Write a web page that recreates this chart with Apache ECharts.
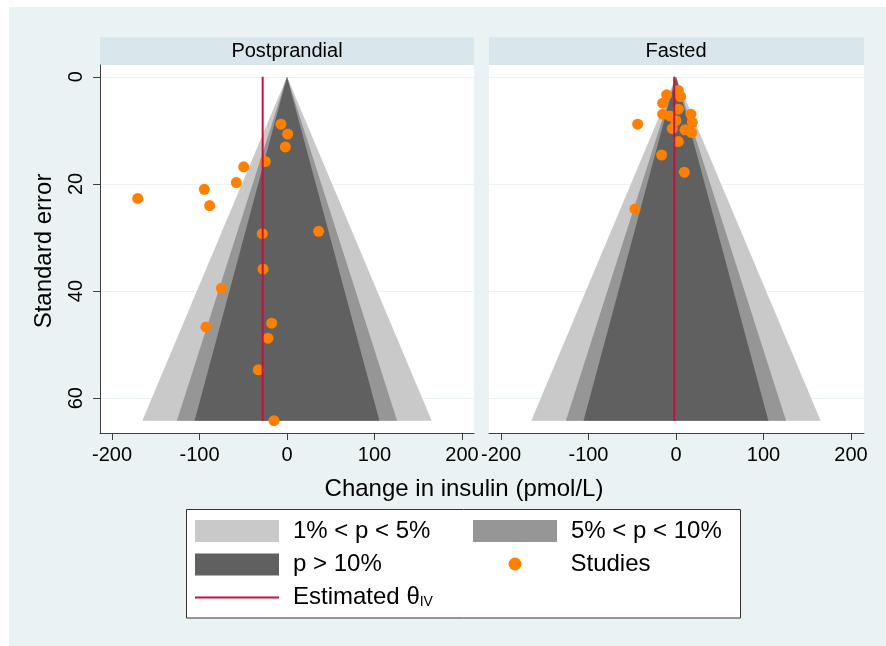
<!DOCTYPE html>
<html><head><meta charset="utf-8">
<script src="https://cdn.jsdelivr.net/npm/echarts@6/dist/echarts.min.js"></script>
<style>html,body{margin:0;padding:0;background:#fff}#c{width:886px;height:646px}</style>
</head><body><div id="c"></div>
<script>
// ---- data ----
const panels = ['Postprandial', 'Fasted'];
const postX  = [-6.9, 0.8, -1.9, -24.8, -49.5, -57.9, -94.5, -170.6, -88.4, -28.2, 36.2, -27.4, -75.0, -92.6, -17.5, -21.7, -32.8, -14.9];
const postSE = [8.85, 10.7, 13.1, 15.8, 16.8, 19.75, 21.0, 22.7, 24.05, 29.3, 28.85, 35.9, 39.5, 46.7, 46.0, 48.8, 54.7, 64.2];
const fastX  = [2.7, -10.7, 5.3, -15.2, 2.7, 17.1, -15.2, -6.9, 0.0, 18.7, -43.8, -4.2, 10.3, 17.9, 2.7, -16.4, 9.5, -46.9];
const fastSE = [2.55, 3.36, 3.68, 4.92, 6.04, 6.98, 6.98, 7.3, 8.2, 8.5, 8.85, 9.66, 9.9, 10.4, 12.1, 14.6, 17.8, 24.7];
const thetaIV = [-27.8, -2.0];
const contourZ = [2.576, 1.96, 1.645];
const contourNames = ['1% < p < 5%', '5% < p < 10%', 'p > 10%'];
const studiesName = 'Studies';
const thetaName = 'Estimated θIV';
const xTicks = [-200, -100, 0, 100, 200];
const yTicks = [0, 20, 40, 60];

// ---- style ----
const FONT = '"Liberation Sans", Arial, sans-serif';
const contourColors = ['#C9C9C9', '#969696', '#606060'];
const dotColor = '#FF8000';
const lineColor = '#C8103E';
const axisColor = '#3f3f3f';
const bgColor = '#EAF2F3';
const stripColor = '#D9E6EB';

const seMax = Math.max(...postSE, ...fastSE);
const xs = [postX, fastX], ses = [postSE, fastSE];
const grids = [
  {left: 100, top: 65, width: 374, height: 368},
  {left: 489, top: 65, width: 375, height: 368}
];
const xRanges = [[-213.7, 213.7], [-213.7, 214.9]];

const option = {
  backgroundColor: bgColor,
  animation: false,
  grid: grids.map(g => Object.assign({show: true, backgroundColor: '#fff', borderWidth: 0}, g)),
  xAxis: grids.map((g, i) => ({
    gridIndex: i, type: 'value', min: xRanges[i][0], max: xRanges[i][1],
    axisLine: {show: true, onZero: false, lineStyle: {color: axisColor, width: 1}},
    axisTick: {show: true, length: 7, customValues: xTicks, lineStyle: {color: axisColor}},
    axisLabel: {customValues: xTicks, fontSize: 20, fontFamily: FONT, color: '#000', margin: 12},
    splitLine: {show: false}
  })),
  yAxis: grids.map((g, i) => ({
    gridIndex: i, type: 'value', inverse: true, min: -2.2, max: 66.5,
    axisLine: {show: i === 0, onZero: false, lineStyle: {color: axisColor, width: 1}},
    axisTick: {show: i === 0, length: 7, customValues: yTicks, lineStyle: {color: axisColor}},
    axisLabel: {show: i === 0, customValues: yTicks, rotate: 90, fontSize: 20, fontFamily: FONT, color: '#000', margin: 14},
    splitLine: {show: true, lineStyle: {color: bgColor, width: 1}}
  })),
  legend: [
    {name: contourNames[0], left: 195, top: 519, icon: 'rect', itemWidth: 84, itemHeight: 22},
    {name: contourNames[1], left: 473, top: 519, icon: 'rect', itemWidth: 84, itemHeight: 22},
    {name: contourNames[2], left: 195, top: 552.5, icon: 'rect', itemWidth: 84, itemHeight: 22},
    {name: studiesName, left: 508.5, top: 552, icon: 'circle', itemWidth: 13, itemHeight: 13, pad: 44},
    {name: thetaName, left: 195, top: 585.5, icon: 'rect', itemWidth: 84, itemHeight: 2}
  ].map(l => ({
    data: [{name: l.name, icon: l.icon}],
    left: l.left, top: l.top, padding: 0, orient: 'vertical',
    itemWidth: l.itemWidth, itemHeight: l.itemHeight, selectedMode: false,
    formatter: n => n === thetaName ? 'Estimated θ{sub|IV}' : n,
    textStyle: {fontSize: 24, fontFamily: FONT, color: '#000', padding: [0, 0, 0, l.pad || 9],
      rich: {sub: {fontSize: 14, fontFamily: FONT, color: '#000', verticalAlign: 'bottom'}}}
  })),
  graphic: [
    {type: 'rect', silent: true, shape: {x: 0, y: 0, width: 886, height: 7}, style: {fill: '#fff'}},
    {type: 'rect', silent: true, shape: {x: 0, y: 0, width: 9, height: 646}, style: {fill: '#fff'}},
    {type: 'rect', silent: true, shape: {x: 100, y: 37.3, width: 374, height: 27.7}, style: {fill: stripColor}},
    {type: 'rect', silent: true, shape: {x: 489, y: 37.3, width: 375, height: 27.7}, style: {fill: stripColor}},
    {type: 'text', silent: true, x: 287, y: 51, style: {text: panels[0], fontSize: 20, fontFamily: FONT, fill: '#000', align: 'center', verticalAlign: 'middle'}},
    {type: 'text', silent: true, x: 676, y: 51, style: {text: panels[1], fontSize: 20, fontFamily: FONT, fill: '#000', align: 'center', verticalAlign: 'middle'}},
    {type: 'text', silent: true, x: 464, y: 489, style: {text: 'Change in insulin (pmol/L)', fontSize: 24, fontFamily: FONT, fill: '#000', align: 'center', verticalAlign: 'middle'}},
    {type: 'text', silent: true, x: 44, y: 251, rotation: Math.PI / 2, style: {text: 'Standard error', fontSize: 24, fontFamily: FONT, fill: '#000', align: 'center', verticalAlign: 'middle'}},
    {type: 'rect', silent: true, shape: {x: 186.5, y: 509.5, width: 554, height: 108.5}, style: {fill: '#fff', stroke: '#333', lineWidth: 1}}
  ],
  series: []
};

for (let i = 0; i < 2; i++) {
  contourZ.forEach((z, k) => {
    option.series.push({
      type: 'custom', name: contourNames[k], xAxisIndex: i, yAxisIndex: i, silent: true,
      itemStyle: {color: contourColors[k]},
      data: [[z, seMax]],
      renderItem: (params, api) => {
        const zz = api.value(0), s = api.value(1);
        return {type: 'polygon', shape: {points: [api.coord([0, 0]), api.coord([-zz * s, s]), api.coord([zz * s, s])]},
          style: {fill: api.visual('color')}};
      }
    });
  });
}
for (let i = 0; i < 2; i++) {
  option.series.push({
    type: 'line', name: thetaName, xAxisIndex: i, yAxisIndex: i, symbol: 'none', showSymbol: false, silent: true,
    lineStyle: {color: lineColor, width: 2}, itemStyle: {color: lineColor},
    data: [[thetaIV[i], 0], [thetaIV[i], seMax]]
  });
}
for (let i = 0; i < 2; i++) {
  option.series.push({
    type: 'scatter', name: studiesName, xAxisIndex: i, yAxisIndex: i, symbol: 'circle', symbolSize: 11, silent: true,
    itemStyle: {color: dotColor, opacity: 1},
    data: xs[i].map((x, j) => [x, ses[i][j]])
  });
}

const chart = echarts.init(document.getElementById('c'), null, {renderer: 'canvas'});
chart.setOption(option);
</script></body></html>
